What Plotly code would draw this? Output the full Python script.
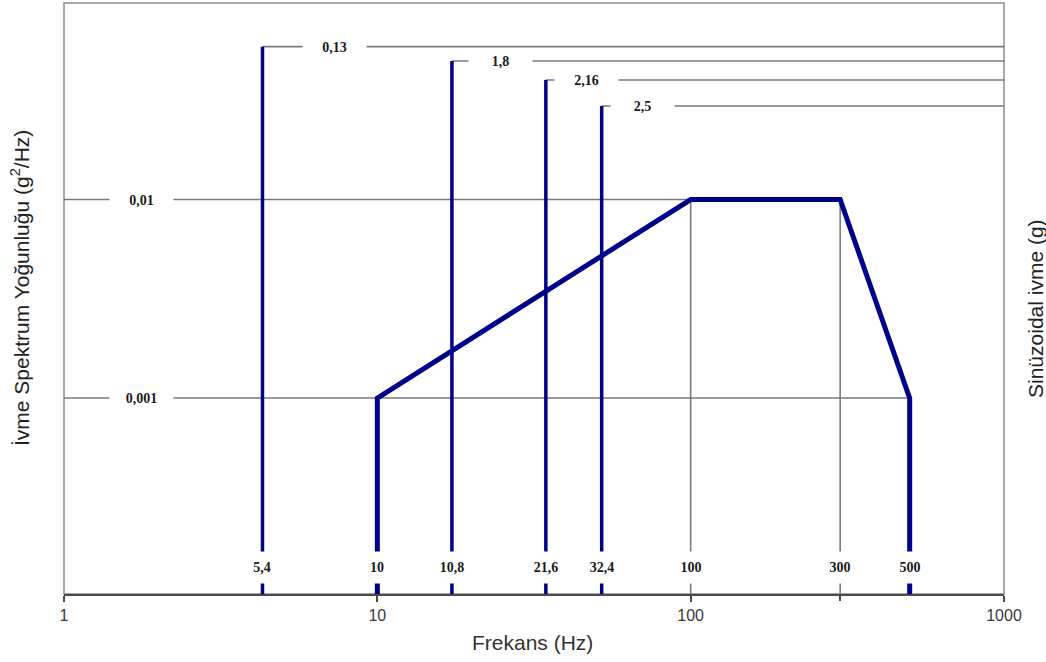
import math
import plotly.graph_objects as go

# ---------------- data ----------------
psd_freq = [10, 100, 300, 500]
psd_vals = [0.001, 0.01, 0.01, 0.001]
psd_level_labels = ["0,01", "0,001"]
psd_levels = [0.01, 0.001]

sine_freq_plot = [4.3, 17.3, 34.5, 52.0]
sine_freq_labels = ["5,4", "10,8", "21,6", "32,4"]
sine_level_labels = ["0,13", "1,8", "2,16", "2,5"]
sine_level_plot = [0.0589, 0.0499, 0.040, 0.0296]

grid_freq = [100, 300]
grid_freq_labels = ["100", "300"]

tick_vals = [1, 10, 100, 1000]
tick_text = ["1", "10", "100", "1000"]
extra_tick_vals = [300]

# ---------------- style ----------------
BLUE = "#00008B"
GRAY = "#7a7a7a"
SERIF = "Liberation Serif, Times New Roman, serif"
SANS = "Liberation Sans, Arial, sans-serif"
YRANGE = [-3.987, -1.010]
YBOT = 10 ** YRANGE[0]
PX_PER_DEC = 940 / 3.0

fig = go.Figure()

def line(x, y, color, width, xaxis="x"):
    fig.add_trace(go.Scatter(x=x, y=y, mode="lines", xaxis=xaxis,
                             line=dict(color=color, width=width),
                             hoverinfo="skip", showlegend=False))

# grey reference lines
line([1, psd_freq[1]], [psd_levels[0]] * 2, GRAY, 1.6)
line([1, psd_freq[3]], [psd_levels[1]] * 2, GRAY, 1.6)
for f in grid_freq:
    line([f, f], [YBOT, psd_vals[1]], GRAY, 1.6)
for f, lv in zip(sine_freq_plot, sine_level_plot):
    line([f, 1000], [lv, lv], GRAY, 1.6)

# sine bars
for f, lv in zip(sine_freq_plot, sine_level_plot):
    line([f, f], [YBOT, lv], BLUE, 3.5)

# PSD profile
line([psd_freq[0]] + psd_freq + [psd_freq[-1]],
     [YBOT] + psd_vals + [YBOT], BLUE, 5)

# invisible trace to host the extra-tick axis
fig.add_trace(go.Scatter(x=extra_tick_vals, y=[psd_vals[2]], xaxis="x2", mode="markers",
                         marker=dict(opacity=0), hoverinfo="skip", showlegend=False))

annotations = []

def lbl(text, x, y, w, h, xref="x", yref="y", size=14):
    annotations.append(dict(
        text="<b>%s</b>" % text, x=x, y=y, xref=xref, yref=yref,
        showarrow=False, bgcolor="white", width=w, height=h,
        font=dict(family=SERIF, size=size, color="#1a1a1a"),
        xanchor="center", yanchor="middle"))

# PSD level labels on the left
for t, lv in zip(psd_level_labels, psd_levels):
    lbl(t, (141.5 - 64) / PX_PER_DEC, math.log10(lv), 61, 14)

# sine level labels
offsets_px = [72, 48.5, 41, 41]
for t, f, lv, off in zip(sine_level_labels, sine_freq_plot, sine_level_plot, offsets_px):
    lbl(t, math.log10(f) + off / PX_PER_DEC, math.log10(lv), 61, 14)

# bottom frequency labels
bottom_y = (594 - 567.5) / 591
for t, f in zip(sine_freq_labels, sine_freq_plot):
    lbl(t, math.log10(f), bottom_y, 36, 29, yref="paper")
lbl("10", math.log10(psd_freq[0]), bottom_y, 30, 29, yref="paper")
for t, f in zip(grid_freq_labels, grid_freq):
    lbl(t, math.log10(f), bottom_y, 30, 29, yref="paper")
lbl("500", math.log10(psd_freq[3]), bottom_y, 30, 29, yref="paper")

# axis titles
annotations.append(dict(text="Frekans (Hz)", x=0.498, y=(594 - 642) / 591,
                        xref="paper", yref="paper", showarrow=False,
                        font=dict(family=SANS, size=21, color="#333333"),
                        xanchor="center", yanchor="middle"))
annotations.append(dict(text="İvme Spektrum Yoğunluğu (g<sup>2</sup>/Hz)",
                        x=-(64 - 20) / 940, y=(594 - 288) / 591,
                        xref="paper", yref="paper", showarrow=False, textangle=-90,
                        font=dict(family=SANS, size=21, color="#222222"),
                        xanchor="center", yanchor="middle"))
annotations.append(dict(text="Sinüzoidal ivme (g)",
                        x=(1035 - 64) / 940, y=(594 - 309) / 591,
                        xref="paper", yref="paper", showarrow=False, textangle=-90,
                        font=dict(family=SANS, size=21, color="#222222"),
                        xanchor="center", yanchor="middle"))

fig.update_layout(
    width=1046, height=662,
    margin=dict(l=64, r=42, t=3, b=68),
    paper_bgcolor="white", plot_bgcolor="white",
    showlegend=False,
    annotations=annotations,
    shapes=[dict(type="rect", xref="paper", yref="paper", x0=0, x1=1, y0=0, y1=1,
                 line=dict(color="#8c8c8c", width=1.5), layer="below")],
    xaxis=dict(type="log", range=[0, 3], showgrid=False, zeroline=False,
               showline=True, linecolor="#4a4a4a", linewidth=1.5,
               ticks="outside", ticklen=6, tickcolor="#4a4a4a", tickwidth=1.5,
               tickvals=tick_vals, ticktext=tick_text,
               tickfont=dict(family=SANS, size=16, color="#3a3a3a")),
    xaxis2=dict(type="log", range=[0, 3], overlaying="x", anchor="y", side="bottom",
                showgrid=False, zeroline=False, showline=False,
                ticks="outside", ticklen=6, tickcolor="#4a4a4a", tickwidth=1.5,
                tickvals=extra_tick_vals, showticklabels=False),
    yaxis=dict(type="log", range=YRANGE, showgrid=False, zeroline=False,
               showline=False, showticklabels=False, ticks=""),
)

fig.write_html("out.html")
